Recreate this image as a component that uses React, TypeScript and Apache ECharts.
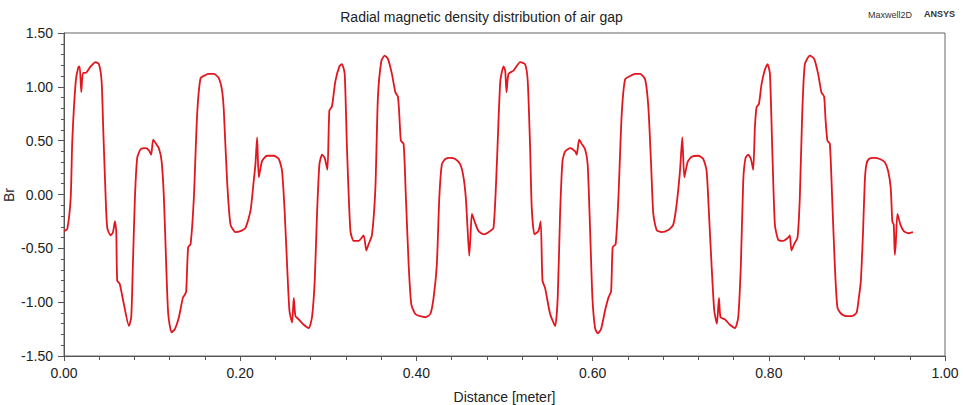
import React, { useEffect, useRef } from "react";
import * as echarts from "echarts";

const titleText = "Radial magnetic density distribution of air gap";
const xAxisName = "Distance [meter]";
const yAxisName = "Br";

const distance = [
  0.0, 0.0037, 0.0076, 0.0094, 0.0133, 0.0162, 0.0178, 0.0196, 0.0215, 0.0246,
  0.0303, 0.0359, 0.0397, 0.0427, 0.0446, 0.0473, 0.0491, 0.0529, 0.0556, 0.0578,
  0.0593, 0.0604, 0.0632, 0.068, 0.0737, 0.0763, 0.0782, 0.0805, 0.0831, 0.087,
  0.0926, 0.0964, 0.099, 0.1012, 0.1046, 0.1077, 0.1108, 0.1134, 0.116, 0.1183,
  0.1221, 0.1259, 0.1304, 0.1349, 0.1372, 0.1387, 0.1409, 0.1437, 0.1474, 0.1511,
  0.155, 0.1607, 0.1644, 0.1701, 0.1757, 0.1795, 0.1814, 0.1851, 0.189, 0.1947,
  0.2003, 0.206, 0.2117, 0.2154, 0.2173, 0.2192, 0.2211, 0.2248, 0.2305, 0.2381,
  0.2438, 0.2475, 0.2506, 0.2532, 0.2559, 0.2589, 0.2608, 0.2627, 0.2664, 0.2721,
  0.2778, 0.2815, 0.2846, 0.2872, 0.2899, 0.2929, 0.2959, 0.299, 0.3012, 0.3042,
  0.308, 0.3126, 0.3155, 0.3186, 0.3212, 0.3251, 0.3288, 0.3345, 0.3401, 0.3432,
  0.3458, 0.3495, 0.3534, 0.3563, 0.3602, 0.3639, 0.3677, 0.3722, 0.3761, 0.379,
  0.3806, 0.3824, 0.3855, 0.3881, 0.3912, 0.3942, 0.3988, 0.4044, 0.4101, 0.4158,
  0.4195, 0.4232, 0.426, 0.4289, 0.4328, 0.4384, 0.4441, 0.4498, 0.4535, 0.4561,
  0.4577, 0.46, 0.4615, 0.463, 0.466, 0.4705, 0.4762, 0.4819, 0.4875, 0.4913,
  0.4952, 0.4989, 0.5008, 0.5023, 0.5045, 0.5102, 0.5178, 0.5234, 0.5264, 0.5291,
  0.5309, 0.534, 0.5385, 0.5411, 0.5431, 0.5461, 0.5518, 0.5575, 0.5604, 0.5631,
  0.5658, 0.5688, 0.5745, 0.5802, 0.582, 0.5847, 0.5876, 0.5915, 0.5944, 0.5972,
  0.5998, 0.6028, 0.6058, 0.6096, 0.6141, 0.6179, 0.621, 0.6228, 0.6262, 0.6293,
  0.633, 0.6369, 0.6425, 0.6482, 0.6539, 0.6596, 0.6633, 0.6664, 0.6689, 0.6727,
  0.6783, 0.6859, 0.6916, 0.6954, 0.6992, 0.7018, 0.7041, 0.7078, 0.7124, 0.72,
  0.7256, 0.7294, 0.7321, 0.735, 0.7381, 0.7411, 0.7434, 0.7452, 0.7502, 0.7559,
  0.7616, 0.7653, 0.7683, 0.771, 0.7736, 0.7766, 0.7797, 0.7823, 0.7842, 0.7861,
  0.7888, 0.7917, 0.7956, 0.7986, 0.8013, 0.8039, 0.8069, 0.8107, 0.8163, 0.822,
  0.8239, 0.8257, 0.8288, 0.8326, 0.8352, 0.8379, 0.8409, 0.8466, 0.8515, 0.856,
  0.8597, 0.8628, 0.8643, 0.8665, 0.8693, 0.8719, 0.8749, 0.8779, 0.8824, 0.8881,
  0.8938, 0.8995, 0.9022, 0.9045, 0.907, 0.909, 0.9108, 0.9135, 0.9195, 0.926,
  0.9317, 0.9354, 0.9384, 0.9402, 0.9418, 0.943, 0.9441, 0.946, 0.9494, 0.9532,
  0.9588, 0.9637,
];

const br = [
  -0.34, -0.32, -0.03, 0.5, 1.05, 1.18, 1.19, 0.95, 1.13, 1.13,
  1.19, 1.23, 1.21, 1.05, 0.59, -0.03, -0.31, -0.38, -0.35, -0.25,
  -0.34, -0.8, -0.83, -1.02, -1.22, -1.14, -0.65, -0.03, 0.34, 0.42,
  0.43, 0.41, 0.37, 0.51, 0.47, 0.43, 0.31, -0.03, -0.65, -1.11,
  -1.28, -1.25, -1.14, -0.96, -0.93, -0.9, -0.49, -0.46, -0.03, 0.74,
  1.08, 1.11, 1.12, 1.12, 1.08, 0.96, 0.78, 0.13, -0.28, -0.35,
  -0.34, -0.31, -0.15, 0.13, 0.28, 0.53, 0.16, 0.31, 0.36, 0.36,
  0.33, 0.22, -0.18, -0.65, -1.08, -1.19, -0.96, -1.13, -1.16, -1.21,
  -1.24, -1.14, -0.8, -0.18, 0.28, 0.37, 0.34, 0.23, 0.78, 0.82,
  1.05, 1.19, 1.21, 1.12, 0.43, -0.34, -0.43, -0.43, -0.38, -0.52,
  -0.46, -0.38, 0.05, 0.9, 1.24, 1.29, 1.26, 1.12, 0.95, 0.91,
  0.74, 0.5, 0.47, -0.03, -0.65, -1.02, -1.11, -1.13, -1.14, -1.11,
  -0.96, -0.65, -0.03, 0.28, 0.33, 0.34, 0.33, 0.28, 0.16, -0.03,
  -0.26, -0.57, -0.37, -0.18, -0.25, -0.34, -0.37, -0.35, -0.31, 0.28,
  1.05, 1.19, 1.15, 0.95, 1.12, 1.15, 1.23, 1.21, 1.05, 0.43,
  -0.12, -0.37, -0.34, -0.25, -0.8, -0.87, -1.11, -1.22, -0.96, -0.18,
  0.31, 0.4, 0.43, 0.4, 0.37, 0.51, 0.47, 0.42, 0.28, -0.34,
  -0.96, -1.24, -1.29, -1.25, -1.08, -0.96, -0.9, -0.49, -0.46, -0.03,
  0.74, 1.07, 1.1, 1.12, 1.12, 1.07, 0.81, 0.28, -0.18, -0.33,
  -0.35, -0.33, -0.28, -0.09, 0.22, 0.53, 0.16, 0.3, 0.35, 0.36,
  0.33, 0.22, -0.18, -0.65, -1.08, -1.2, -0.96, -1.14, -1.16, -1.21,
  -1.24, -1.14, -0.65, 0.13, 0.34, 0.37, 0.33, 0.23, 0.62, 0.81,
  0.84, 1.02, 1.16, 1.21, 1.12, 0.43, -0.28, -0.42, -0.43, -0.4,
  -0.38, -0.52, -0.46, -0.4, -0.03, 0.74, 1.21, 1.29, 1.26, 1.12,
  0.95, 0.91, 0.71, 0.5, 0.47, -0.03, -0.65, -1.05, -1.11, -1.13,
  -1.13, -1.1, -0.96, -0.8, -0.34, 0.13, 0.28, 0.33, 0.34, 0.33,
  0.3, 0.22, 0.06, -0.25, -0.28, -0.56, -0.46, -0.18, -0.28, -0.34,
  -0.36, -0.35,
];

export default function App() {
  const ref = useRef<HTMLDivElement>(null);

  useEffect(() => {
    if (!ref.current) return;
    const chart = echarts.init(ref.current, undefined, { renderer: "svg" });
    const textColor = "#222";
    const axisColor = "#555";
    const font = "Liberation Sans, Arial, sans-serif";
    chart.setOption({
      animation: false,
      backgroundColor: "#ffffff",
      title: {
        text: titleText,
        left: "center",
        top: 5,
        textStyle: { fontSize: 14, fontWeight: "normal", color: textColor, fontFamily: font },
      },
      graphic: [
        {
          type: "text",
          left: 868,
          top: 10,
          style: { text: "Maxwell2D", fontSize: 9, fill: "#333", fontFamily: font },
        },
        {
          type: "text",
          left: 924,
          top: 9,
          style: { text: "ANSYS", fontSize: 9, fontWeight: "bold", fill: "#333", fontFamily: font },
        },
        {
          type: "text",
          x: 9,
          y: 195,
          rotation: Math.PI / 2,
          style: {
            text: yAxisName,
            fontSize: 14,
            fill: textColor,
            fontFamily: font,
            align: "center",
            verticalAlign: "middle",
          },
        },
      ],
      grid: {
        left: 64,
        right: 18,
        top: 33,
        bottom: 49,
        containLabel: false,
        outerBoundsMode: "none",
        show: true,
        borderColor: "#666",
        borderWidth: 1,
        backgroundColor: "transparent",
      },
      xAxis: {
        type: "value",
        min: 0,
        max: 1,
        interval: 0.2,
        name: xAxisName,
        nameLocation: "middle",
        nameGap: 34,
        nameTextStyle: { fontSize: 14, color: textColor, fontFamily: font },
        axisLine: { show: true, onZero: false, lineStyle: { color: axisColor, width: 1 } },
        axisTick: { show: true, length: 5, lineStyle: { color: axisColor } },
        minorTick: { show: true, splitNumber: 5, length: 4, lineStyle: { color: axisColor } },
        splitLine: { show: false },
        axisLabel: {
          fontSize: 14,
          color: textColor,
          fontFamily: font,
          margin: 10,
          formatter: (v: number) => v.toFixed(2),
        },
      },
      yAxis: {
        type: "value",
        min: -1.5,
        max: 1.5,
        interval: 0.5,
        axisLine: { show: true, onZero: false, lineStyle: { color: axisColor, width: 1 } },
        axisTick: { show: true, length: 6, lineStyle: { color: axisColor } },
        minorTick: { show: true, splitNumber: 5, length: 3, lineStyle: { color: axisColor } },
        splitLine: { show: false },
        axisLabel: {
          fontSize: 14,
          color: textColor,
          fontFamily: font,
          margin: 11,
          formatter: (v: number) => v.toFixed(2),
        },
      },
      series: [
        {
          type: "line",
          data: distance.map((d, i) => [d, br[i]]),
          showSymbol: false,
          symbol: "none",
          smooth: 0.2,
          lineStyle: { color: "#e2161f", width: 1.8 },
        },
      ],
    });
    return () => chart.dispose();
  }, []);

  return (
    <div
      ref={ref}
      style={{ position: "fixed", left: 0, top: 0, width: 963, height: 405, background: "#fff" }}
    />
  );
}
